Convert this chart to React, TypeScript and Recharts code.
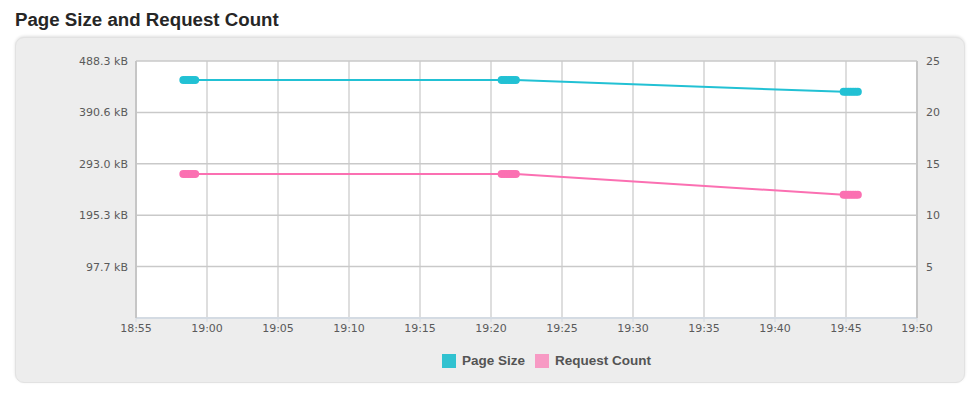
import { LineChart, Line, XAxis, YAxis, CartesianGrid } from "recharts";

const times = [
  "18:58:20", "18:58:30", "18:58:40", "18:58:50", "18:59:00", "18:59:10",
  "19:20:45", "19:20:55", "19:21:05", "19:21:15", "19:21:25", "19:21:35", "19:21:45",
  "19:44:50", "19:45:00", "19:45:10", "19:45:20", "19:45:30", "19:45:40", "19:45:50",
];
const pageSize = [
  463000, 463000, 463000, 463000, 463000, 463000,
  463000, 463000, 463000, 463000, 463000, 463000, 463000,
  440000, 440000, 440000, 440000, 440000, 440000, 440000,
];
const requestCount = [
  14, 14, 14, 14, 14, 14,
  14, 14, 14, 14, 14, 14, 14,
  12, 12, 12, 12, 12, 12, 12,
];
const timeTicks = [
  "18:55", "19:00", "19:05", "19:10", "19:15", "19:20",
  "19:25", "19:30", "19:35", "19:40", "19:45", "19:50",
];
const sizeTicks = [100000, 200000, 300000, 400000, 500000];
const countTicks = [5, 10, 15, 20, 25];

const series = [
  { key: "size", name: "Page Size", color: "#22c1d4", swatch: "#31c2d0" },
  { key: "count", name: "Request Count", color: "#fb70b2", swatch: "#f79ac4" },
];

// "HH:MM[:SS]" -> minutes since midnight
const toMin = (s: string) => {
  const [h, m, sec] = s.split(":").map(Number);
  return h * 60 + m + (sec || 0) / 60;
};
const fmtTime = (v: number) => {
  const h = Math.floor(v / 60);
  const m = Math.round(v - h * 60);
  return `${h}:${String(m).padStart(2, "0")}`;
};

const data = times.map((t, i) => ({ t: toMin(t), size: pageSize[i], count: requestCount[i] }));

const tickStyle = { fontFamily: "DejaVu Sans", fontSize: 11, fill: "#5a5a5a" };

export default function App() {
  return (
    <div style={{ position: "absolute", left: 0, top: 0, width: 978, height: 398, background: "#fff" }}>
      <div
        style={{
          position: "absolute",
          left: 15,
          top: 9,
          fontFamily: "Liberation Sans, Arial, sans-serif",
          fontWeight: "bold",
          fontSize: 18.7,
          color: "#262626",
        }}
      >
        Page Size and Request Count
      </div>
      <div
        style={{
          position: "absolute",
          left: 15,
          top: 37,
          width: 948,
          height: 344,
          background: "#ededed",
          borderRadius: 9,
          border: "1px solid #e2e2e2",
          boxShadow: "0 -1px 3px rgba(0,0,0,0.12)",
        }}
      />
      <div style={{ position: "absolute", left: 0, top: 0 }}>
        <LineChart width={978} height={398} data={data} margin={{ top: 61, right: 0, bottom: 0, left: 0 }}>
          <CartesianGrid yAxisId="size" fill="#fff" horizontal={false} stroke="#dedede" strokeWidth={2} verticalValues={timeTicks.map(toMin)} />
          <CartesianGrid yAxisId="size" vertical={false} stroke="#c9c9c9" strokeWidth={1.5} />
          <XAxis
            dataKey="t"
            type="number"
            domain={[toMin(timeTicks[0]), toMin(timeTicks[timeTicks.length - 1])]}
            ticks={timeTicks.map(toMin)}
            tickFormatter={fmtTime}
            height={80}
            tick={tickStyle}
            axisLine={{ stroke: "#d4dbe3", strokeWidth: 2 }}
            tickLine={{ stroke: "#d4dbe3" }}
            tickSize={4}
            tickMargin={2}
          />
          <YAxis
            yAxisId="size"
            orientation="left"
            width={136}
            domain={[0, 500000]}
            ticks={sizeTicks}
            tickFormatter={(v: number) => `${(v / 1024).toFixed(1)} kB`}
            tick={tickStyle}
            axisLine={{ stroke: "#c6c6c6", strokeWidth: 2 }}
            tickLine={false}
            tickSize={0}
            tickMargin={8}
          />
          <YAxis
            yAxisId="count"
            orientation="right"
            width={61}
            domain={[0, 25]}
            ticks={countTicks}
            tick={{ ...tickStyle, textAnchor: "start" }}
            axisLine={{ stroke: "#c6c6c6", strokeWidth: 2 }}
            tickLine={false}
            tickSize={0}
            tickMargin={9}
          />
          {series.map((s) => (
            <Line
              key={s.key}
              yAxisId={s.key}
              dataKey={s.key}
              name={s.name}
              type="linear"
              stroke={s.color}
              strokeWidth={2}
              dot={{ r: 3, fill: s.color, stroke: s.color, strokeWidth: 2 }}
              activeDot={false}
              isAnimationActive={false}
            />
          ))}
        </LineChart>
      </div>
      <div
        style={{
          position: "absolute",
          left: 442,
          top: 353,
          display: "flex",
          alignItems: "center",
          fontFamily: "Liberation Sans, Arial, sans-serif",
          fontWeight: "bold",
          fontSize: 13.5,
          color: "#545454",
        }}
      >
        {series.map((s) => (
          <div key={s.key} style={{ display: "flex", alignItems: "center", marginRight: 10 }}>
            <div style={{ width: 14, height: 14, background: s.swatch, marginRight: 6 }} />
            <span>{s.name}</span>
          </div>
        ))}
      </div>
    </div>
  );
}
